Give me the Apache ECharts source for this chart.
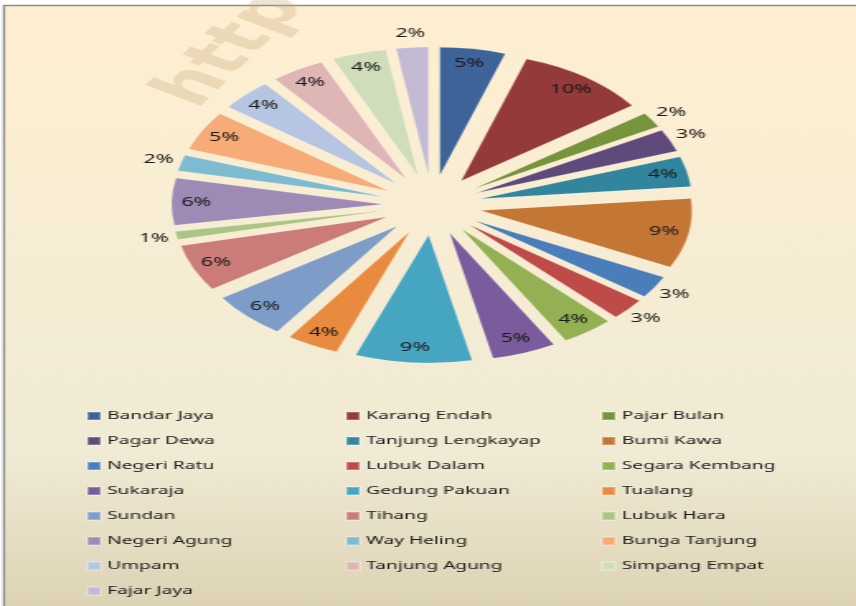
<!DOCTYPE html>
<html>
<head>
<meta charset="utf-8">
<script src="https://cdn.jsdelivr.net/npm/echarts@6/dist/echarts.min.js"></script>
<style>
  html, body { margin: 0; padding: 0; background: #fff; overflow: hidden; }
  /* the reference picture is stretched sideways, so the chart is drawn narrow and widened */
  #chart {
    width: 519px;
    height: 606px;
    transform: scaleX(1.6494);
    transform-origin: 0 0;
  }
</style>
</head>
<body>
<div id="chart"></div>
<script>
const desaNames = [
  'Bandar Jaya', 'Karang Endah', 'Pajar Bulan', 'Pagar Dewa', 'Tanjung Lengkayap',
  'Bumi Kawa', 'Negeri Ratu', 'Lubuk Dalam', 'Segara Kembang', 'Sukaraja',
  'Gedung Pakuan', 'Tualang', 'Sundan', 'Tihang', 'Lubuk Hara', 'Negeri Agung',
  'Way Heling', 'Bunga Tanjung', 'Umpam', 'Tanjung Agung', 'Simpang Empat', 'Fajar Jaya'
]
// shares in percent
const desaValues = [
  5.0, 10.0, 1.9, 2.8, 3.8, 8.8, 2.8, 2.7, 4.0, 4.9, 8.9,
  4.0, 5.9, 5.9, 1.0, 5.9, 2.0, 5.0, 4.0, 4.1, 4.15, 2.45
]
const desaColors = [
  '#3d6399', '#953a3a', '#77933c', '#604a7b', '#31859c', '#c47634',
  '#4a7ebb', '#be4b48', '#93b152', '#7a5c9d', '#46a5c0', '#e98b3f',
  '#7e9cc8', '#cb7b79', '#abc684', '#9d8ab5', '#7dbcd0', '#f7ab77',
  '#b6c5e1', '#dfb6b6', '#d0ddba', '#c4bad4'
]

const FONT = '"Noto Sans", "Open Sans", sans-serif'
const SMALL = 3.5 // slices below this get their label outside

const chart = echarts.init(document.getElementById('chart'), null, { renderer: 'canvas' })

// three columns of legend, names taken row by row
function legendColumn(col, left) {
  return {
    orient: 'vertical',
    left: left,
    top: 409,
    height: 195,
    padding: 0,
    icon: 'rect',
    itemWidth: 8,
    itemHeight: 8,
    itemGap: 11,
    selectedMode: false,
    data: desaNames.filter((n, i) => i % 3 === col),
    textStyle: { fontFamily: FONT, fontSize: 11.6, color: '#1a1a1a', lineHeight: 14, padding: [0, 0, 0, -1] }
  }
}

// transparent ring that only carries percentage labels
function labelRing(radius, showFn) {
  return {
    type: 'pie',
    center: [262, 205],
    radius: radius,
    startAngle: 90,
    clockwise: true,
    silent: true,
    avoidLabelOverlap: false,
    itemStyle: { color: 'rgba(0,0,0,0)' },
    emphasis: { disabled: true },
    labelLine: { show: false },
    label: {
      position: 'inside',
      fontFamily: FONT,
      fontSize: 13,
      color: '#1a1a1a',
      formatter: (p) => Math.round(p.percent) + '%'
    },
    data: desaNames.map((name, i) => ({
      name: name,
      value: desaValues[i],
      label: { show: showFn(desaValues[i]) }
    }))
  }
}

chart.setOption({
  animation: false,
  backgroundColor: '#ffffff',
  graphic: [
    {
      type: 'rect',
      z: -10,
      silent: true,
      shape: { x: 2.4, y: 5.5, width: 600, height: 700 },
      style: {
        fill: new echarts.graphic.LinearGradient(0, 0, 0, 1, [
          { offset: 0, color: '#ffefd1' },
          { offset: 0.64, color: '#f0ebd5' },
          { offset: 1, color: '#d1c39f' }
        ]),
        stroke: '#8c8c8c',
        lineWidth: 1.4
      }
    },
    {
      type: 'text',
      z: -5,
      silent: true,
      x: 130,
      y: 116,
      rotation: 58 * Math.PI / 180,
      style: {
        text: 'http://www',
        font: 'bold 52px "DejaVu Sans", sans-serif',
        fill: 'rgba(200, 172, 125, 0.32)',
        textVerticalAlign: 'bottom'
      }
    }
  ],
  legend: [legendColumn(0, 52), legendColumn(1, 209), legendColumn(2, 364)],
  series: [
    {
      type: 'pie',
      center: [262, 205],
      radius: [0, 128],
      startAngle: 90,
      clockwise: true,
      selectedMode: 'multiple',
      selectedOffset: 30,
      avoidLabelOverlap: false,
      silent: true,
      label: { show: false },
      labelLine: { show: false },
      itemStyle: { borderColor: 'rgba(255,255,255,0.25)', borderWidth: 0.6 },
      emphasis: { disabled: true },
      data: desaNames.map((name, i) => ({
        name: name,
        value: desaValues[i],
        selected: true,
        itemStyle: { color: desaColors[i] }
      }))
    },
    labelRing([126, 154], (v) => v >= SMALL),
    labelRing([158, 180], (v) => v < SMALL)
  ]
})
</script>
</body>
</html>
